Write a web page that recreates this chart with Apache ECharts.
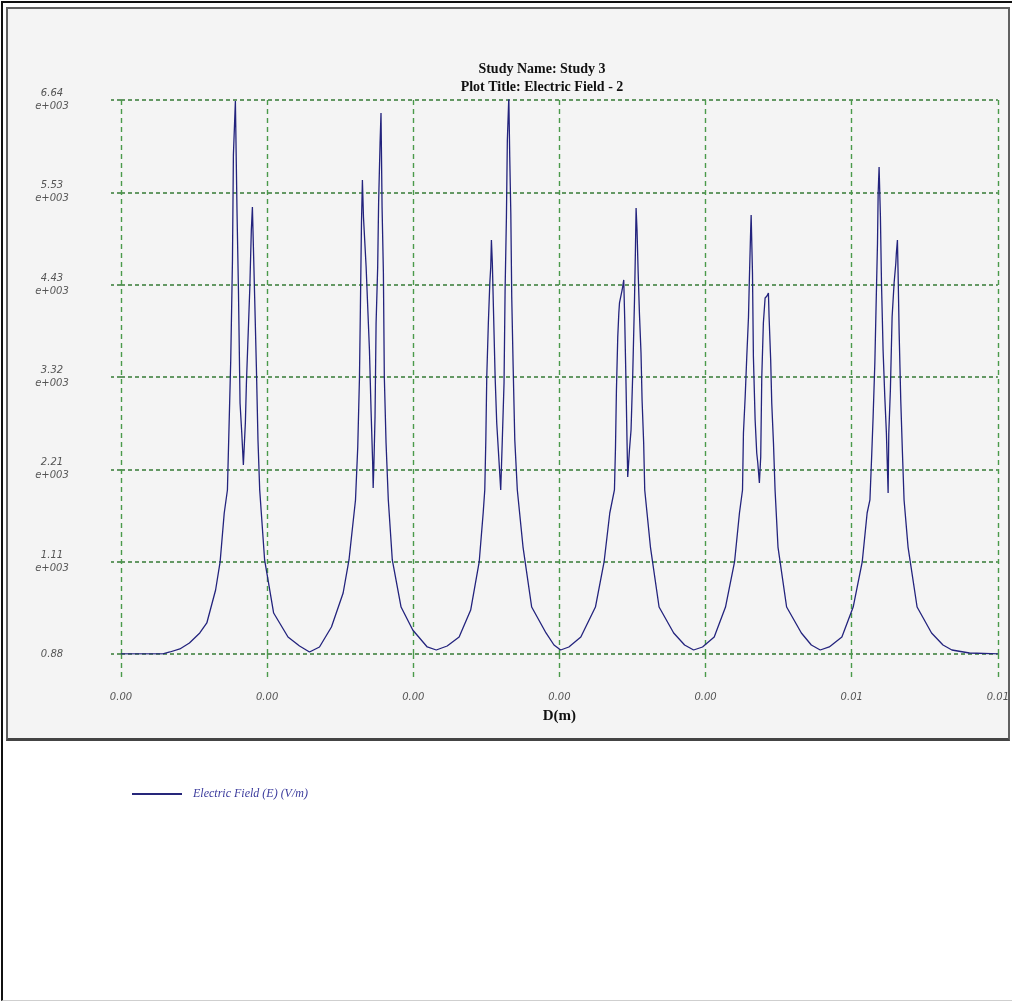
<!DOCTYPE html>
<html>
<head>
<meta charset="utf-8">
<script src="https://cdn.jsdelivr.net/npm/echarts@6/dist/echarts.min.js"></script>
<style>
  html, body { margin: 0; padding: 0; background: #fff; }
  .page { position: relative; width: 1012px; height: 1002px; overflow: hidden; }
  .frame {
    position: absolute; left: 1px; top: 1px; width: 1020px; height: 997px;
    border-left: 2px solid #111; border-top: 2px solid #111; border-bottom: 1px solid #cfcfcf;
  }
  .panel {
    position: absolute; left: 6px; top: 7px; width: 1000px; height: 729px;
    background: #f4f4f4; border: 2px solid #606060; border-bottom: 3px solid #444;
  }
  #chart { position: absolute; left: 0; top: 0; width: 1012px; height: 1002px; }
</style>
</head>
<body>
<div class="page">
  <div class="frame"></div>
  <div class="panel"></div>
  <div id="chart"></div>
</div>
<script>
// distance along the path (m)
const distance = [
  0, 0.000315, 0.000368, 0.000443, 0.000515, 0.000593, 0.000646, 0.000712, 0.000746, 0.000777,
  0.000801, 0.000826, 0.000839, 0.000846, 0.000861, 0.000873, 0.000884, 0.000896, 0.000909, 0.000921,
  0.000936, 0.000944, 0.000969, 0.000981, 0.000989, 0.001006, 0.001019, 0.001031, 0.001044, 0.001081,
  0.001149, 0.001257, 0.001344, 0.001419, 0.001494, 0.001584, 0.001672, 0.001716, 0.001765, 0.001782,
  0.001795, 0.001802, 0.001810, 0.001817, 0.001825, 0.001845, 0.001857, 0.001870, 0.001882, 0.001894,
  0.001898, 0.001903, 0.001912, 0.001920, 0.001932, 0.001939, 0.001950, 0.001957, 0.001965, 0.001975,
  0.001982, 0.001995, 0.002012, 0.002042, 0.002108, 0.002196, 0.002305, 0.002373, 0.002455, 0.002545,
  0.002632, 0.002696, 0.002726, 0.002738, 0.002746, 0.002753, 0.002765, 0.002776, 0.002783, 0.002788,
  0.002795, 0.002803, 0.002816, 0.002828, 0.002846, 0.002858, 0.002870, 0.002883, 0.002891, 0.002901,
  0.002908, 0.002919, 0.002926, 0.002934, 0.002941, 0.002951, 0.002964, 0.002983, 0.003026, 0.003091,
  0.003199, 0.003259, 0.003309, 0.003371, 0.003461, 0.003571, 0.003636, 0.003679, 0.003714, 0.003722,
  0.003729, 0.003739, 0.003747, 0.003752, 0.003772, 0.003784, 0.003792, 0.003802, 0.003809, 0.003814,
  0.003827, 0.003839, 0.003852, 0.003865, 0.003872, 0.003877, 0.003884, 0.003892, 0.003902, 0.003914,
  0.003922, 0.003934, 0.003942, 0.003985, 0.004050, 0.004160, 0.004242, 0.004310, 0.004377, 0.004465,
  0.004550, 0.004618, 0.004655, 0.004678, 0.004685, 0.004698, 0.004710, 0.004723, 0.004730, 0.004738,
  0.004743, 0.004753, 0.004760, 0.004773, 0.004785, 0.004793, 0.004805, 0.004815, 0.004823, 0.004835,
  0.004848, 0.004862, 0.004873, 0.004878, 0.004890, 0.004898, 0.004911, 0.004923, 0.004945, 0.005010,
  0.005121, 0.005196, 0.005263, 0.005331, 0.005426, 0.005511, 0.005579, 0.005616, 0.005637, 0.005649,
  0.005661, 0.005674, 0.005686, 0.005694, 0.005699, 0.005706, 0.005716, 0.005724, 0.005736, 0.005749,
  0.005761, 0.005774, 0.005779, 0.005791, 0.005804, 0.005819, 0.005832, 0.005836, 0.005844, 0.005849,
  0.005857, 0.005869, 0.005881, 0.005894, 0.005924, 0.005992, 0.006101, 0.006187, 0.006254, 0.006386,
  0.0066
];

// electric field (V/m)
const field = [
  0.88, 0.88, 24, 60, 132, 252, 372, 767, 1103, 1690,
  1966, 3524, 4722, 5981, 6628, 5322, 4363, 3008, 2649, 2265,
  2769, 3248, 4363, 5082, 5358, 4279, 3440, 2565, 1966, 1127,
  491, 204, 96, 24, 84, 324, 731, 1127, 1846, 2481,
  3320, 4159, 5166, 5681, 5238, 4638, 4159, 3644, 2925, 2301,
  1990, 2241, 2841, 3967, 4638, 5405, 6125, 6484, 5358, 4566,
  3320, 2529, 1846, 1127, 563, 288, 84, 48, 96, 204,
  527, 1103, 1690, 1966, 2565, 3320, 3967, 4447, 4638, 4962,
  4686, 4159, 3320, 2769, 2289, 1966, 2565, 3248, 4363, 5238,
  6161, 6676, 5957, 5286, 4279, 3488, 2565, 1966, 1282, 563,
  252, 108, 48, 84, 204, 563, 1103, 1690, 1966, 2481,
  3164, 3800, 4087, 4207, 4363, 4483, 3967, 3164, 2529, 2121,
  2445, 2685, 3368, 4243, 4842, 5346, 5082, 4602, 4087, 3608,
  3044, 2529, 1966, 1282, 563, 252, 108, 48, 84, 204,
  563, 1103, 1690, 1966, 2649, 3080, 3560, 4039, 4518, 4998,
  5262, 4566, 3560, 2805, 2409, 2289, 2050, 2361, 3320, 3967,
  4267, 4291, 4327, 4039, 3524, 3008, 2529, 1966, 1282, 563,
  252, 108, 48, 84, 204, 563, 1103, 1690, 1846, 2325,
  2841, 3488, 4363, 4926, 5525, 5837, 5238, 4447, 3644, 3080,
  2649, 1930, 2649, 3164, 4039, 4447, 4686, 4806, 4962, 4566,
  3847, 3044, 2445, 1846, 1282, 563, 252, 108, 48, 12,
  0.88
];

const xTickLabels = ['0.00', '0.00', '0.00', '0.00', '0.00', '0.01', '0.01'];
const yTickLabels = ['0.88', '1.11\ne+003', '2.21\ne+003', '3.32\ne+003', '4.43\ne+003', '5.53\ne+003', '6.64\ne+003'];

const xMax = 0.0066;
const yMax = 6640;

const points = distance.map((d, i) => [d, field[i]]);

const chart = echarts.init(document.getElementById('chart'));

const option = {
  backgroundColor: 'transparent',
  animation: false,
  title: {
    text: 'Study Name: Study 3\nPlot Title: Electric Field - 2',
    left: 537,
    top: 55,
    textAlign: 'center',
    textStyle: {
      fontFamily: 'Liberation Serif',
      fontWeight: 'bold',
      fontSize: 14,
      lineHeight: 18,
      color: '#111'
    }
  },
  legend: {
    left: 127,
    top: 783,
    icon: 'rect',
    itemWidth: 50,
    itemHeight: 2,
    itemGap: 10,
    itemStyle: { color: '#26267a' },
    textStyle: {
      fontFamily: 'Liberation Serif',
      fontStyle: 'italic',
      fontSize: 12,
      color: '#3a3a9c',
      padding: [0, 0, 0, 6]
    },
    data: ['Electric Field (E) (V/m)']
  },
  grid: {
    left: 121,
    top: 100,
    width: 879,
    height: 554
  },
  xAxis: {
    type: 'value',
    min: 0,
    max: xMax,
    interval: xMax / 6,
    name: 'D(m)',
    nameLocation: 'middle',
    nameGap: 55,
    nameTextStyle: {
      fontFamily: 'Liberation Serif',
      fontWeight: 'bold',
      fontSize: 15,
      color: '#111'
    },
    axisLine: { show: false },
    axisTick: {
      show: true,
      length: 26,
      lineStyle: { color: '#4a9a4a', width: 1.4, type: [5, 4] }
    },
    axisLabel: {
      margin: 38,
      fontFamily: 'DejaVu Sans',
      fontStyle: 'italic',
      fontSize: 10,
      color: '#555',
      formatter: (v, i) => xTickLabels[i]
    },
    splitLine: {
      show: true,
      lineStyle: { color: '#4a9a4a', width: 1.4, type: [5, 4] }
    }
  },
  yAxis: {
    type: 'value',
    min: 0,
    max: yMax,
    interval: yMax / 6,
    axisLine: { show: false },
    axisTick: {
      show: true,
      length: 10,
      lineStyle: { color: '#357a35', width: 1.5, type: [4, 3] }
    },
    axisLabel: {
      margin: 69,
      align: 'center',
      lineHeight: 13,
      fontFamily: 'DejaVu Sans',
      fontStyle: 'italic',
      fontSize: 10,
      color: '#555',
      formatter: (v, i) => yTickLabels[i]
    },
    splitLine: {
      show: true,
      lineStyle: { color: '#357a35', width: 1.5, type: [4, 3] }
    }
  },
  series: [
    {
      name: 'Electric Field (E) (V/m)',
      type: 'line',
      symbol: 'none',
      lineStyle: { color: '#23237d', width: 1.3 },
      itemStyle: { color: '#23237d' },
      data: points
    }
  ]
};

chart.setOption(option);
</script>
</body>
</html>
